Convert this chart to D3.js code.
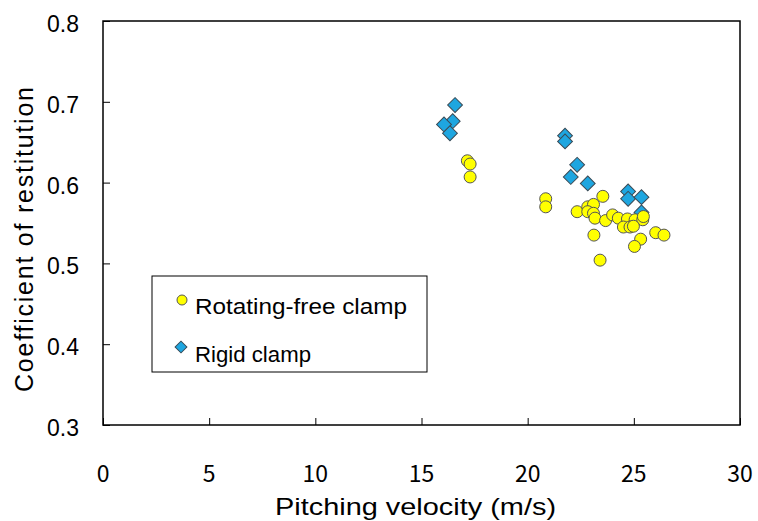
<!doctype html>
<html lang="en">
<head>
<meta charset="utf-8">
<style>
  body { margin: 0; background: #fff; }
  svg text { fill: #000; }
</style>
</head>
<body>
<script src="https://d3js.org/d3.v7.min.js"></script>
<div id="chart"></div>
<script>
// Rotating-free clamp (yellow circles)
var freeVel = [17.16, 17.29, 17.29, 20.85, 20.85, 23.54, 22.33, 22.83, 23.1, 22.83, 23.1, 23.17,
               23.67, 24.0, 24.27, 24.7, 25.06, 25.42, 25.45, 24.51, 24.82, 24.98, 23.12, 25.32,
               25.03, 26.03, 26.42, 23.41];
var freeCor = [0.627, 0.623, 0.607, 0.580, 0.570, 0.583, 0.564, 0.570, 0.573, 0.564, 0.562, 0.556,
               0.553, 0.560, 0.556, 0.555, 0.554, 0.554, 0.558, 0.545, 0.545, 0.546, 0.535, 0.530,
               0.521, 0.538, 0.535, 0.504];
// Rigid clamp (blue diamonds)
var rigidVel = [16.58, 16.47, 16.06, 16.34, 21.76, 21.76, 22.33, 22.03, 22.83, 24.73, 24.73, 25.36, 25.36];
var rigidCor = [0.696, 0.676, 0.672, 0.661, 0.658, 0.651, 0.622, 0.607, 0.599, 0.589, 0.580, 0.582, 0.563];

var xTicks = [0, 5, 10, 15, 20, 25, 30];
var yTicks = [0.3, 0.4, 0.5, 0.6, 0.7, 0.8];
var seriesNames = ["Rotating-free clamp", "Rigid clamp"];

var width = 758, height = 521;
var margin = {top: 21, right: 18, bottom: 96, left: 103};
var w = width - margin.left - margin.right,
    h = height - margin.top - margin.bottom;

var svg = d3.select("#chart").append("svg")
            .attr("width", width)
            .attr("height", height);
var g = svg.append("g")
           .attr("transform", "translate(" + margin.left + "," + margin.top + ")");

var x = d3.scaleLinear().domain([0, 30]).range([0, w]);
var y = d3.scaleLinear().domain([0.3, 0.8]).range([h, 0]);

// axes with inward ticks
g.append("g")
 .attr("transform", "translate(0," + h + ")")
 .call(d3.axisTop(x).tickValues(xTicks).tickSize(7).tickFormat(""));
g.append("g")
 .call(d3.axisRight(y).tickValues(yTicks).tickSize(7).tickFormat(""));
g.selectAll(".domain").remove();
g.selectAll(".tick line").attr("stroke", "#000").attr("stroke-width", 1);

g.append("rect")
 .attr("width", w).attr("height", h)
 .attr("fill", "none").attr("stroke", "#000").attr("stroke-width", 1.5);

// tick labels
g.append("g").selectAll("text").data(xTicks).enter().append("text")
 .attr("x", d => x(d))
 .attr("y", h + 57)
 .attr("text-anchor", "middle")
 .style("font-family", "'Noto Sans CJK JP', sans-serif")
 .style("font-size", "23px")
 .text(d => d);

g.append("g").selectAll("text").data(yTicks).enter().append("text")
 .attr("x", -24)
 .attr("y", d => y(d) + 11)
 .attr("text-anchor", "end")
 .style("font-family", "'Liberation Sans', Arial, sans-serif")
 .style("font-size", "23px")
 .text(d => d.toFixed(1));

// axis titles
svg.append("text")
   .attr("x", 275)
   .attr("y", 515)
   .attr("textLength", 281)
   .attr("lengthAdjust", "spacingAndGlyphs")
   .style("font-family", "'Liberation Sans', sans-serif")
   .style("font-size", "24px")
   .text("Pitching velocity (m/s)");

svg.append("text")
   .attr("transform", "translate(33,392) rotate(-90)")
   .attr("textLength", 305)
   .attr("lengthAdjust", "spacing")
   .style("font-family", "'Liberation Sans', sans-serif")
   .style("font-size", "25px")
   .text("Coefficient of restitution");

// points
var free = freeVel.map((v, i) => ({v: v, c: freeCor[i]}));
var rigid = rigidVel.map((v, i) => ({v: v, c: rigidCor[i]}));

g.append("g").selectAll("path").data(rigid).enter().append("path")
 .attr("d", d3.symbol().type(d3.symbolSquare).size(110))
 .attr("transform", d => "translate(" + x(d.v) + "," + y(d.c) + ") rotate(45)")
 .attr("fill", "#1ea6e0")
 .attr("stroke", "#3a4a55")
 .attr("stroke-width", 1);

g.append("g").selectAll("circle").data(free).enter().append("circle")
 .attr("cx", d => x(d.v))
 .attr("cy", d => y(d.c))
 .attr("r", 6)
 .attr("fill", "#ffff00")
 .attr("stroke", "#555")
 .attr("stroke-width", 1);

// legend
var lg = svg.append("g").attr("transform", "translate(152,276)");
lg.append("rect")
  .attr("width", 275).attr("height", 96)
  .attr("fill", "#fff").attr("stroke", "#000").attr("stroke-width", 1);
lg.append("circle")
  .attr("cx", 30).attr("cy", 24).attr("r", 5)
  .attr("fill", "#ffff00").attr("stroke", "#555");
lg.append("path")
  .attr("d", d3.symbol().type(d3.symbolSquare).size(70))
  .attr("transform", "translate(29,71) rotate(45)")
  .attr("fill", "#1ea6e0").attr("stroke", "#3a4a55");
lg.selectAll("text.lab").data(seriesNames).enter().append("text")
  .attr("class", "lab")
  .attr("x", 43)
  .attr("y", (d, i) => 38 + i * 48)
  .attr("textLength", (d, i) => i === 0 ? 212 : 116)
  .attr("lengthAdjust", "spacingAndGlyphs")
  .style("font-family", "'Liberation Sans', sans-serif")
  .style("font-size", "22px")
  .text(d => d);
</script>
</body>
</html>
